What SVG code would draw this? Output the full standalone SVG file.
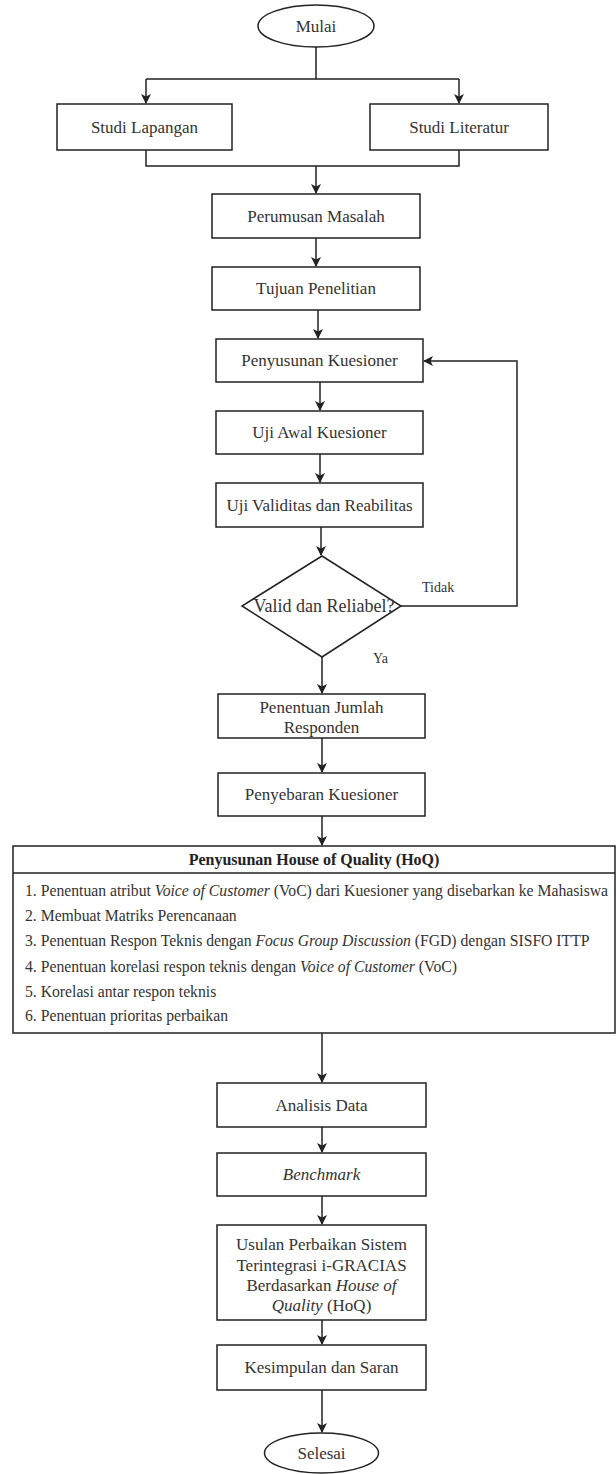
<svg xmlns="http://www.w3.org/2000/svg" width="616" height="1474" viewBox="0 0 616 1474">
<defs>
<marker id="arr" viewBox="0 0 10 10" refX="9" refY="5" markerWidth="10" markerHeight="10" markerUnits="userSpaceOnUse" orient="auto">
<path d="M0,0 L10,5 L0,10 L2.5,5 z" fill="#222"/>
</marker>
<style>
.b{fill:#fff;stroke:#222;stroke-width:1.5}
.t{font-family:"Liberation Serif","Times New Roman",serif;font-size:17px;fill:#333;text-anchor:middle}
.d{font-size:18px}
.s{font-family:"Liberation Serif","Times New Roman",serif;font-size:14px;fill:#333}
.i{font-family:"Liberation Serif","Times New Roman",serif;font-size:15.7px;fill:#333}
.h{font-family:"Liberation Serif","Times New Roman",serif;font-size:16px;font-weight:bold;fill:#222;text-anchor:middle}
.c{fill:none;stroke:#222;stroke-width:1.5}
.a{marker-end:url(#arr)}
</style>
</defs>
<rect width="616" height="1474" fill="#fff"/>
<g id="connectors">
<path class="c" d="M316,47 V79 M146,79 H459"/>
<path class="c a" d="M146,79 V103"/>
<path class="c a" d="M459,79 V103"/>
<path class="c" d="M146,150 V166 H459 V150"/>
<path class="c a" d="M316,166 V193"/>
<path class="c a" d="M316,238 V266"/>
<path class="c a" d="M318,310 V338"/>
<path class="c a" d="M320,382 V410"/>
<path class="c a" d="M320,454 V482"/>
<path class="c a" d="M321,527 V555"/>
<path class="c a" d="M401,606 H517 V361 H424"/>
<path class="c a" d="M322,657 V693"/>
<path class="c a" d="M322,738 V772"/>
<path class="c a" d="M322,816 V845"/>
<path class="c a" d="M322,1033 V1082"/>
<path class="c a" d="M322,1127 V1152"/>
<path class="c a" d="M322,1196 V1224"/>
<path class="c a" d="M322,1320 V1344"/>
<path class="c a" d="M322,1390 V1432"/>
</g>
<g id="mulai">
<ellipse class="b" cx="316" cy="26" rx="58" ry="21"/>
<text class="t" x="316" y="32">Mulai</text>
</g>
<g id="studi-lapangan">
<rect class="b" x="57" y="104" width="175" height="46"/>
<text class="t" x="144.5" y="133">Studi Lapangan</text>
</g>
<g id="studi-literatur">
<rect class="b" x="370" y="104" width="178" height="46"/>
<text class="t" x="459" y="133">Studi Literatur</text>
</g>
<g id="perumusan">
<rect class="b" x="212" y="194" width="208" height="44"/>
<text class="t" x="316" y="222">Perumusan Masalah</text>
</g>
<g id="tujuan">
<rect class="b" x="212" y="267" width="208" height="43"/>
<text class="t" x="316" y="294">Tujuan Penelitian</text>
</g>
<g id="penyusunan">
<rect class="b" x="216" y="339" width="207" height="43"/>
<text class="t" x="319.5" y="366">Penyusunan Kuesioner</text>
</g>
<g id="uji-awal">
<rect class="b" x="216" y="411" width="207" height="43"/>
<text class="t" x="319.5" y="438">Uji Awal Kuesioner</text>
</g>
<g id="uji-validitas">
<rect class="b" x="216" y="483" width="207" height="44"/>
<text class="t" x="319.5" y="511">Uji Validitas dan Reabilitas</text>
</g>
<g id="decision">
<polygon class="b" points="322,556 401,606 322,657 242,606"/>
<text class="t d" x="324" y="612">Valid dan Reliabel?</text>
<text class="s" x="422" y="592">Tidak</text>
<text class="s" x="373" y="663">Ya</text>
</g>
<g id="penentuan-jumlah">
<rect class="b" x="218" y="694" width="207" height="44"/>
<text class="t" x="321.5" y="713">Penentuan Jumlah</text>
<text class="t" x="321.5" y="733">Responden</text>
</g>
<g id="penyebaran">
<rect class="b" x="218" y="773" width="207" height="43"/>
<text class="t" x="321.5" y="800">Penyebaran Kuesioner</text>
</g>
<g id="hoq">
<rect class="b" x="13" y="846" width="602" height="187"/>
<line class="c" x1="13" y1="873" x2="615" y2="873"/>
<text class="h" x="314" y="865">Penyusunan House of Quality (HoQ)</text>
<text class="i" x="25" y="896">1. Penentuan atribut <tspan font-style="italic">Voice of Customer</tspan> (VoC) dari Kuesioner yang disebarkan ke Mahasiswa</text>
<text class="i" x="25" y="921">2. Membuat Matriks Perencanaan</text>
<text class="i" x="25" y="946">3. Penentuan Respon Teknis dengan <tspan font-style="italic">Focus Group Discussion</tspan> (FGD) dengan SISFO ITTP</text>
<text class="i" x="25" y="972">4. Penentuan korelasi respon teknis dengan <tspan font-style="italic">Voice of Customer</tspan> (VoC)</text>
<text class="i" x="25" y="997">5. Korelasi antar respon teknis</text>
<text class="i" x="25" y="1021">6. Penentuan prioritas perbaikan</text>
</g>
<g id="analisis">
<rect class="b" x="217" y="1083" width="209" height="44"/>
<text class="t" x="321.5" y="1111">Analisis Data</text>
</g>
<g id="benchmark">
<rect class="b" x="217" y="1153" width="209" height="43"/>
<text class="t" x="321.5" y="1180" font-style="italic">Benchmark</text>
</g>
<g id="usulan">
<rect class="b" x="217" y="1225" width="209" height="95"/>
<text class="t" x="321.5" y="1250">Usulan Perbaikan Sistem</text>
<text class="t" x="321.5" y="1271">Terintegrasi i-GRACIAS</text>
<text class="t" x="321.5" y="1291">Berdasarkan <tspan font-style="italic">House of</tspan></text>
<text class="t" x="321.5" y="1311"><tspan font-style="italic">Quality</tspan> (HoQ)</text>
</g>
<g id="kesimpulan">
<rect class="b" x="217" y="1345" width="209" height="45"/>
<text class="t" x="321.5" y="1373">Kesimpulan dan Saran</text>
</g>
<g id="selesai">
<ellipse class="b" cx="321.5" cy="1453" rx="57" ry="20"/>
<text class="t" x="321.5" y="1459">Selesai</text>
</g>
</svg>
